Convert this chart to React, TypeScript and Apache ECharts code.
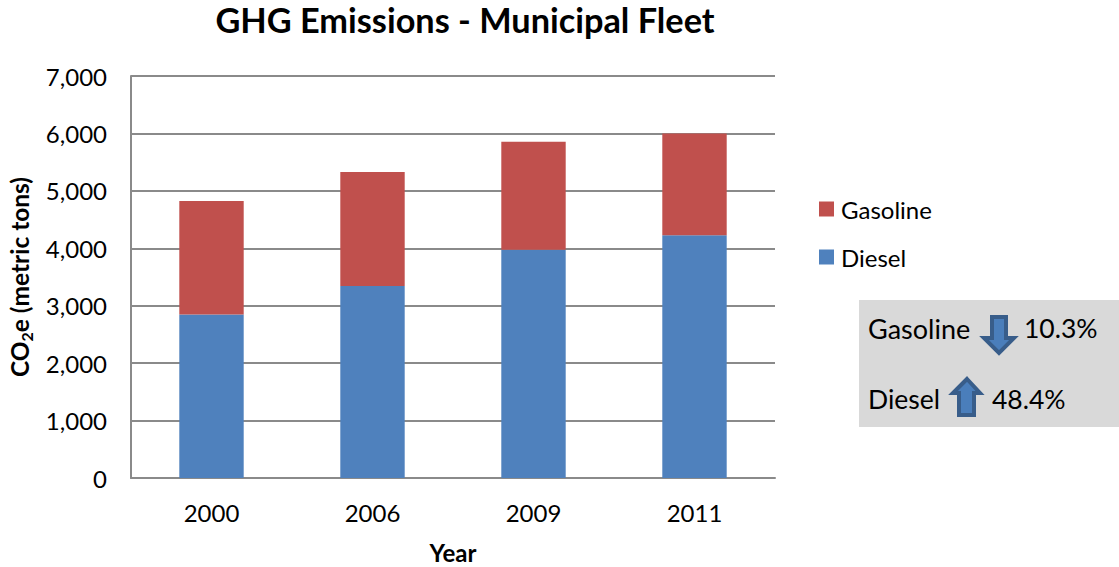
import React, { useEffect, useRef } from "react";
import * as echarts from "echarts";

const years = ["2000", "2006", "2009", "2011"];
const diesel = [2847, 3345, 3975, 4225];
const gasoline = [1975, 1985, 1880, 1772];
const yTicks = { min: 0, max: 7000, interval: 1000 };
const summary = [
  { label: "Gasoline", change: "10.3%" },
  { label: "Diesel", change: "48.4%" },
];

const FONT = "Lato";
const AXIS_GREY = "#8a8a8a";
const ARROW_FILL = "#4a7ebb";
const ARROW_EDGE = "#385d8a";

export default function App() {
  const ref = useRef<HTMLDivElement>(null);

  useEffect(() => {
    document.body.style.margin = "0";
    const chart = echarts.init(ref.current!, undefined, { renderer: "svg" });
    chart.setOption({
      animation: false,
      backgroundColor: "#ffffff",
      textStyle: { fontFamily: FONT, color: "#000" },
      title: {
        text: "GHG Emissions - Municipal Fleet",
        left: 460,
        top: -3,
        textAlign: "center",
        textStyle: { fontFamily: FONT, fontSize: 34.3, fontWeight: "bold", color: "#000" },
      },
      grid: { left: 131, right: 344, top: 76, bottom: 89, outerBoundsMode: "none" },
      legend: {
        left: 814,
        top: 192,
        orient: "vertical",
        icon: "rect",
        data: ["Gasoline", "Diesel"],
        itemWidth: 15,
        itemHeight: 15,
        itemGap: 24,
        textStyle: { fontFamily: FONT, fontSize: 24, color: "#000", padding: [0, 0, 0, 2] },
      },
      xAxis: {
        type: "category",
        data: years,
        name: "Year",
        nameLocation: "middle",
        nameGap: 62,
        nameTextStyle: { fontFamily: FONT, fontSize: 24, fontWeight: "bold", color: "#000" },
        axisLine: { lineStyle: { color: AXIS_GREY, width: 2 } },
        axisTick: { show: false },
        axisLabel: { fontFamily: FONT, fontSize: 24, color: "#000", margin: 22 },
      },
      yAxis: {
        type: "value",
        ...yTicks,
        name: "{b|CO}{s|2}{b|e (metric tons)}",
        nameLocation: "middle",
        nameGap: 96,
        nameTextStyle: {
          rich: {
            b: { fontFamily: FONT, fontSize: 24.5, fontWeight: "bold", color: "#000" },
            s: { fontFamily: FONT, fontSize: 16, fontWeight: "bold", color: "#000", verticalAlign: "bottom", padding: [14, 0, 0, 0] },
          },
        },
        axisLine: { show: true, lineStyle: { color: AXIS_GREY, width: 2 } },
        axisTick: { show: false },
        splitLine: { lineStyle: { color: AXIS_GREY, width: 2 } },
        axisLabel: {
          fontFamily: FONT,
          fontSize: 24,
          color: "#000",
          margin: 24,
          formatter: (v: number) => v.toLocaleString("en-US"),
        },
      },
      series: [
        {
          name: "Diesel",
          type: "bar",
          stack: "fleet",
          data: diesel,
          barWidth: "40%",
          itemStyle: { color: "#4f81bd" },
        },
        {
          name: "Gasoline",
          type: "bar",
          stack: "fleet",
          data: gasoline,
          barWidth: "40%",
          itemStyle: { color: "#c0504d" },
        },
      ],
      graphic: [
        {
          type: "rect",
          z: 1,
          shape: { x: 859, y: 300, width: 260, height: 127 },
          style: { fill: "#d9d9d9" },
        },
        {
          type: "text",
          z: 2,
          style: { x: 868, y: 328, text: summary[0].label, font: `27px ${FONT}`, fill: "#000", textVerticalAlign: "middle" },
        },
        {
          type: "text",
          z: 2,
          style: { x: 1024, y: 328, text: summary[0].change, font: `26.5px ${FONT}`, fill: "#000", textVerticalAlign: "middle" },
        },
        {
          type: "text",
          z: 2,
          style: { x: 868, y: 399, text: summary[1].label, font: `26.5px ${FONT}`, fill: "#000", textVerticalAlign: "middle" },
        },
        {
          type: "text",
          z: 2,
          style: { x: 992, y: 399, text: summary[1].change, font: `26.5px ${FONT}`, fill: "#000", textVerticalAlign: "middle" },
        },
        // Down arrow beside the gasoline change
        {
          type: "polygon",
          z: 2,
          shape: {
            points: [
              [992, 317], [1006, 317], [1006, 338], [1014, 338], [999, 353], [984, 338], [992, 338],
            ],
          },
          style: { fill: ARROW_FILL, stroke: ARROW_EDGE, lineWidth: 4 },
        },
        // Up arrow beside the diesel change
        {
          type: "polygon",
          z: 2,
          shape: {
            points: [
              [967, 379], [980, 393], [974, 393], [974, 415], [959, 415], [959, 393], [953, 393],
            ],
          },
          style: { fill: ARROW_FILL, stroke: ARROW_EDGE, lineWidth: 4 },
        },
      ],
    });
    return () => chart.dispose();
  }, []);

  return <div ref={ref} style={{ width: 1119, height: 567 }} />;
}
